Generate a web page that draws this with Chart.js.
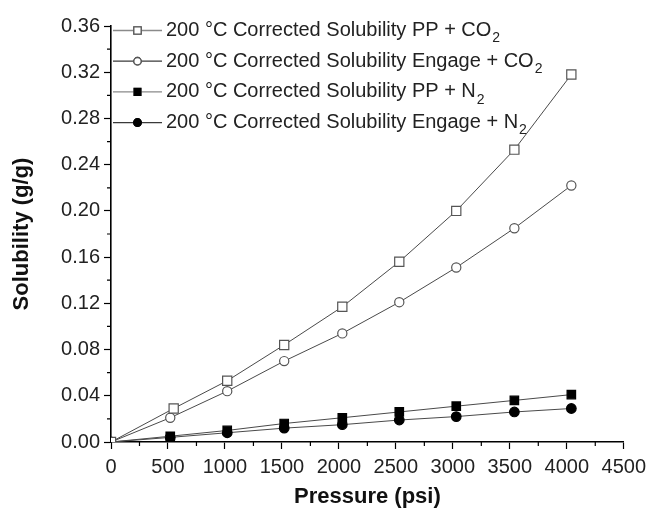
<!DOCTYPE html>
<html>
<head>
<meta charset="utf-8">
<script src="https://cdn.jsdelivr.net/npm/chart.js@4"></script>
<style>
  html, body { margin: 0; padding: 0; background: #fff; }
  #wrap { width: 652px; height: 515px; }
</style>
</head>
<body>
<div id="wrap"><canvas id="solChart" width="652" height="515"></canvas></div>
<script>
const FONT = "'Liberation Sans', Arial, sans-serif";

// pressure (psi)
const pressure = [0, 520, 1020, 1520, 2030, 2530, 3030, 3540, 4040];
const pressurePPCO2 = [0, 550, 1020, 1520, 2030, 2530, 3030, 3540, 4040];

// solubility (g/g)
const ppCO2 = [0, 0.029, 0.053, 0.084, 0.117, 0.156, 0.200, 0.253, 0.318];
const engageCO2 = [0, 0.021, 0.044, 0.070, 0.094, 0.121, 0.151, 0.185, 0.222];
const ppN2 = [0, 0.005, 0.010, 0.016, 0.021, 0.026, 0.031, 0.036, 0.041];
const engageN2 = [0, 0.004, 0.008, 0.012, 0.015, 0.019, 0.022, 0.026, 0.029];

const seriesLabels = [
  "200 °C Corrected Solubility PP + CO₂",
  "200 °C Corrected Solubility Engage + CO₂",
  "200 °C Corrected Solubility PP + N₂",
  "200 °C Corrected Solubility Engage + N₂"
];

const yTicks = [0, 0.04, 0.08, 0.12, 0.16, 0.20, 0.24, 0.28, 0.32, 0.36];
const xTicks = [0, 500, 1000, 1500, 2000, 2500, 3000, 3500, 4000, 4500];

const pts = (xs, ys) => xs.map((x, i) => ({ x: x, y: ys[i] }));

const lineColor = "#4a4a4a";
const legendLineColors = ["#8a8a8a", "#3a3a3a", "#8a8a8a", "#3a3a3a"];

const datasets = [
  { label: seriesLabels[0], data: pts(pressurePPCO2, ppCO2), pointStyle: "rect", pointRadius: 6.5,
    pointBackgroundColor: "#fff", pointBorderColor: "#555" },
  { label: seriesLabels[1], data: pts(pressure, engageCO2), pointStyle: "circle", pointRadius: 4.6,
    pointBackgroundColor: "#fff", pointBorderColor: "#555" },
  { label: seriesLabels[2], data: pts(pressure, ppN2), pointStyle: "rect", pointRadius: 6,
    pointBackgroundColor: "#000", pointBorderColor: "#000" },
  { label: seriesLabels[3], data: pts(pressure, engageN2), pointStyle: "circle", pointRadius: 4.8,
    pointBackgroundColor: "#000", pointBorderColor: "#000" }
].map(d => Object.assign({
  borderColor: lineColor, borderWidth: 1, pointBorderWidth: 1.2, tension: 0, showLine: true,
  pointHoverRadius: 0
}, d));

// minor ticks drawn halfway between the major ones
const minorTicks = {
  id: "minorTicks",
  afterDraw(chart) {
    const ctx = chart.ctx, xs = chart.scales.x, ys = chart.scales.y;
    ctx.save();
    ctx.strokeStyle = "#000";
    ctx.lineWidth = 1.2;
    ctx.beginPath();
    for (let i = 0; i < yTicks.length - 1; i++) {
      const py = ys.getPixelForValue((yTicks[i] + yTicks[i + 1]) / 2);
      ctx.moveTo(xs.left - 4, py); ctx.lineTo(xs.left, py);
    }
    for (let i = 0; i < xTicks.length - 1; i++) {
      const px = xs.getPixelForValue((xTicks[i] + xTicks[i + 1]) / 2);
      ctx.moveTo(px, ys.bottom); ctx.lineTo(px, ys.bottom + 4);
    }
    ctx.stroke();
    ctx.restore();
  }
};

// legend inside the plot, top left, with subscripts
const insideLegend = {
  id: "insideLegend",
  afterDatasetsDraw(chart) {
    const ctx = chart.ctx, area = chart.chartArea;
    ctx.save();
    chart.data.datasets.forEach((ds, i) => {
      const y = area.top + 4.5 + i * 30.7;
      const x0 = area.left + 2, x1 = area.left + 51, xm = (x0 + x1) / 2;
      ctx.strokeStyle = legendLineColors[i];
      ctx.lineWidth = 1.3;
      ctx.beginPath(); ctx.moveTo(x0, y); ctx.lineTo(x1, y); ctx.stroke();
      Chart.helpers.drawPoint(ctx, {
        pointStyle: ds.pointStyle, radius: ds.pointRadius * 0.8, rotation: 0,
        borderWidth: 1.2
      }, xm, y);
      ctx.fillStyle = ds.pointBackgroundColor;
      ctx.strokeStyle = ds.pointBorderColor;
      ctx.beginPath();
      if (ds.pointStyle === "rect") {
        const s = ds.pointRadius * 0.8 * Math.SQRT1_2;
        ctx.rect(xm - s, y - s, 2 * s, 2 * s);
      } else {
        ctx.arc(xm, y, ds.pointRadius * 0.8, 0, Math.PI * 2);
      }
      ctx.fill(); ctx.stroke();

      const parts = ds.label.split("₂");
      ctx.fillStyle = "#222";
      ctx.textBaseline = "middle";
      ctx.textAlign = "left";
      ctx.font = "20px " + FONT;
      const tx = x1 + 4;
      ctx.fillText(parts[0], tx, y);
      if (parts.length > 1) {
        const w = ctx.measureText(parts[0]).width;
        ctx.font = "14px " + FONT;
        ctx.fillText("2", tx + w + 1, y + 8);
      }
    });
    ctx.restore();
  }
};

new Chart(document.getElementById("solChart").getContext("2d"), {
  type: "scatter",
  data: { datasets: datasets },
  options: {
    responsive: false,
    animation: false,
    layout: { padding: { left: 0, right: 22, top: 26, bottom: 0 } },
    plugins: { legend: { display: false }, tooltip: { enabled: false } },
    scales: {
      x: {
        type: "linear", min: 0, max: 4500,
        afterFit: s => { s.height = 73; },
        afterBuildTicks: s => { s.ticks = xTicks.map(v => ({ value: v })); },
        grid: { drawOnChartArea: false, drawTicks: true, tickLength: 7, tickColor: "#000", tickWidth: 1.2 },
        border: { display: true, color: "#000", width: 1.6 },
        ticks: { color: "#222", padding: 6, maxRotation: 0, font: { family: FONT, size: 20 },
          callback: v => String(v) },
        title: { display: true, text: "Pressure (psi)", color: "#111",
          font: { family: FONT, size: 22, weight: "bold" }, padding: { top: 0, bottom: 5 } }
      },
      y: {
        type: "linear", min: 0, max: 0.36,
        afterFit: s => { s.width = 111; },
        afterBuildTicks: s => { s.ticks = yTicks.map(v => ({ value: v })); },
        grid: { drawOnChartArea: false, drawTicks: true, tickLength: 7, tickColor: "#000", tickWidth: 1.2 },
        border: { display: true, color: "#000", width: 1.6 },
        ticks: { color: "#222", padding: 4, font: { family: FONT, size: 20 },
          callback: v => Number(v).toFixed(2) },
        title: { display: true, text: "Solubility (g/g)", color: "#111",
          font: { family: FONT, size: 22, weight: "bold" }, padding: { top: 9, bottom: 0 } }
      }
    }
  },
  plugins: [minorTicks, insideLegend]
});
</script>
</body>
</html>
